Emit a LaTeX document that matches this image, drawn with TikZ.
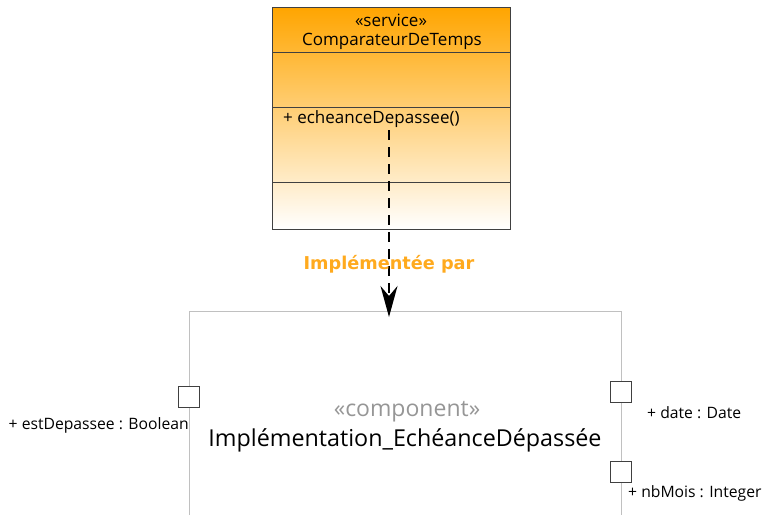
\documentclass[tikz,border=0pt]{standalone}
\usepackage{fontspec}
\setmainfont{Open Sans}
\newfontfamily\lblfont{DejaVu Sans}
\usetikzlibrary{arrows.meta}
\definecolor{umlorange}{RGB}{255,165,0}
\definecolor{lblorange}{RGB}{255,170,30}
\definecolor{framegray}{RGB}{192,192,192}
\definecolor{stereogray}{RGB}{150,150,150}
\tikzset{
  classline/.style={draw=black!75, line width=0.8pt},
  port/.style={draw=black!75, fill=white, line width=0.8pt, minimum width=21pt, minimum height=21pt, inner sep=0pt},
  ctxt/.style={inner sep=0pt, font=\fontsize{17}{19}\selectfont},
  txt/.style={inner sep=0pt, font=\fontsize{15.7}{18}\selectfont},
  frame/.style={draw=framegray, line width=1pt},
}
\begin{document}
\begin{tikzpicture}[x=1pt,y=-1pt]
\useasboundingbox (0,0) rectangle (763,515);
% class box
\shade[top color=umlorange, bottom color=white] (272,7) rectangle (510,229);
\draw[classline] (272,7) rectangle (510,229);
\draw[classline] (272,52) -- (510,52);
\draw[classline] (272,107) -- (510,107);
\draw[classline] (272,182) -- (510,182);
\node[ctxt] (stereo) at (391,20) {«service»};
\node[ctxt] (cname) at (392,41) {ComparateurDeTemps};
\node[ctxt, anchor=west] (op) at (283,119) {+ echeanceDepassee()};
\coordinate (start) at (389,130);
% component frame
\coordinate (ctl) at (189,311);
\coordinate (ctr) at (621,311);
\coordinate (cbl) at (189,515);
\coordinate (cbr) at (621,515);
\draw[frame] (cbl) -- (ctl) -- (ctr) -- (cbr);
\coordinate (target) at (389,317);
\draw[line width=1.5pt, dash pattern=on 10pt off 7pt, -{Stealth[length=31pt,width=17pt,inset=10pt]}] (start) -- (target);
\node[inner sep=0pt, font=\lblfont\bfseries\fontsize{17.7}{20}\selectfont, text=lblorange] (lbl) at (389,264) {Implémentée par};
\node[inner sep=0pt, font=\fontsize{23}{26}\selectfont, text=stereogray] (cstereo) at (407,412) {«component»};
\node[inner sep=0pt, font=\fontsize{23.3}{26}\selectfont] (cname2) at (405,440) {Implémentation\_EchéanceDépassée};
% ports
\node[port] (p1) at (189,397) {};
\node[port] (p2) at (621,392) {};
\node[port] (p3) at (621,472) {};
\node[txt, anchor=east] (l1) at (189,425) {+ estDepassee : Boolean};
\node[txt, anchor=west] (l2) at (647,413) {+ date : Date};
\node[txt, anchor=west] (l3) at (628,493) {+ nbMois : Integer};
\end{tikzpicture}
\end{document}
